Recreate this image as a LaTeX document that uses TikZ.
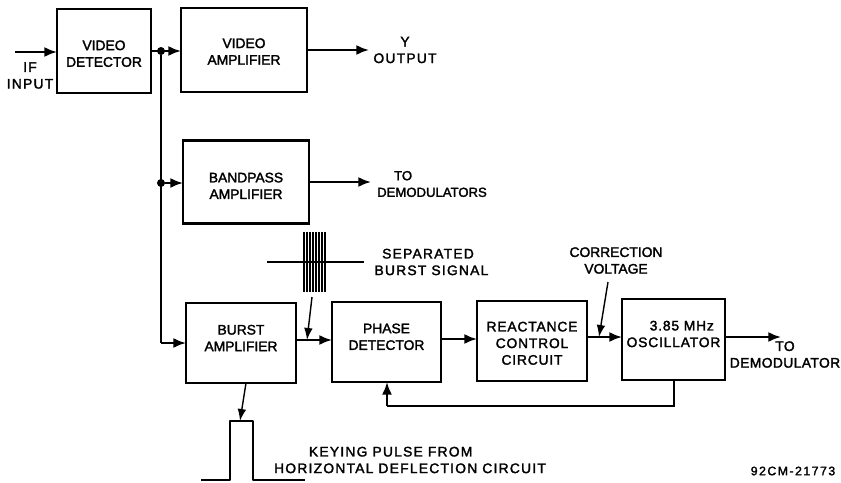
\documentclass[tikz,border=0pt]{standalone}
\usepackage{fontspec}
\setmainfont[FakeBold=2]{Liberation Sans}
\usetikzlibrary{arrows.meta}
\tikzset{
  % blocco del ricevitore
  block/.style={draw, line width=2pt, inner sep=0pt, outer sep=0pt, align=center,
    font=\lblfont},
  % etichette
  lbl/.style={inner sep=0pt, align=center, font=\lblfont},
  wide lbl/.style={lbl, font=\lblfont\addfontfeature{LetterSpace=9}},
  % collegamenti
  flow/.style={line width=1.8pt, -{Latex[length=3.8mm,width=3mm]}},
  wire/.style={line width=1.8pt},
  thin wire/.style={line width=1.2pt, -{Latex[length=3.6mm,width=2.6mm]}},
  junction/.style={circle, fill, inner sep=0pt, minimum size=2.4mm},
}
\newcommand{\lblfont}{\fontsize{11.8}{14.2}\selectfont}
\begin{document}
\begin{tikzpicture}[x=0.3mm, y=-0.3mm]
  \useasboundingbox (0,0) rectangle (841,482);
  % blocchi
  \node[block, minimum width=2.82cm, minimum height=2.52cm, text height=27pt] (det) at (104,51) {VIDEO\\DETECTOR};
  \node[block, minimum width=3.78cm, minimum height=2.52cm, text height=25pt] (vamp) at (244,50) {VIDEO\\AMPLIFIER};
  \node[block, minimum width=3.78cm, minimum height=2.49cm, text height=29pt] (band) at (246,182) {BANDPASS\\AMPLIFIER};
  \node[block, minimum width=3.3cm, minimum height=2.4cm, text depth=8.5pt] (burst) at (241,343) {BURST\\AMPLIFIER};
  \node[block, minimum width=3.27cm, minimum height=2.4cm, text depth=9pt] (phase) at (386.5,342) {PHASE\\DETECTOR};
  \node[block, minimum width=3.3cm, minimum height=2.4cm, text height=40.5pt, font=\lblfont\addfontfeature{LetterSpace=6}] (react) at (532,341) {REACTANCE\\CONTROL\\CIRCUIT};
  \node[block, minimum width=3.09cm, minimum height=2.43cm, text depth=9.5pt, font=\lblfont\addfontfeature{LetterSpace=6}] (osc) at (673.5,339.5) {\hspace*{1.2em}3.85 MHz\\OSCILLATOR};
  % giunzioni e punti liberi
  \node[junction] (jv) at (161,51) {};
  \node[junction] (jb) at (161,183) {};
  \coordinate (jr) at (161,343);
  \coordinate (ifin) at (15,52);
  \coordinate (yout) at (369,50);
  \coordinate (bout) at (371,182);
  \coordinate (oout) at (781,337);
  \coordinate (phin) at (387,382);
  \coordinate (fbl) at (387,406);
  \coordinate (fbr) at (674,406);
  \coordinate (oscs) at (674,380);
  \coordinate (bline) at (307,340);
  \coordinate (cline) at (599,337);
  \coordinate (bsrc) at (312,297);
  \coordinate (csrc) at (608,282);
  \coordinate (pulsetop) at (240,421);
  \coordinate (burstb) at (246,383);
  % collegamenti
  \draw[flow] (ifin) -- (det.west |- ifin);
  \draw[flow] (det.east |- jv) -- (vamp.west |- jv);
  \draw[wire] (jv) -- (jr);
  \draw[flow] (jb) -- (band.west |- jb);
  \draw[flow] (jr) -- (burst.west);
  \draw[flow] (vamp.east |- yout) -- (yout);
  \draw[flow] (band.east |- bout) -- (bout);
  \draw[flow] (burst.east |- bline) -- (phase.west |- bline);
  \draw[flow] (phase.east |- 0,339) -- (react.west |- 0,339);
  \draw[flow] (react.east |- cline) -- (osc.west |- cline);
  \draw[flow] (osc.east |- oout) -- (oout);
  \draw[wire] (oscs) -- (fbr) -- (fbl);
  \draw[flow] (fbl) -- (phin);
  \draw[thin wire] (bsrc) -- (bline);
  \draw[thin wire] (csrc) -- (cline);
  \draw[thin wire] (burstb) -- (pulsetop);
  % segnale di burst
  \draw[line width=1.2pt] (267,262) -- (364,262);
  \foreach \x in {304,307,310,313,316,319,322,325} {
    \draw[line width=1.5pt] (\x,232) -- (\x,292);
  }
  % impulso di chiave
  \draw[line width=2pt, line join=round] (201,480) -- (230,480) -- (230,421) -- (253,421) -- (253,480) -- (305,480);
  % testi
  \node[wide lbl] (ifl) at (30,75.5) {IF\\INPUT};
  \node[wide lbl] (yl) at (405,50) {Y\\OUTPUT};
  \node[lbl, font=\fontsize{11.2}{14.2}\selectfont] (tol) at (432,184) {TO\hspace*{4.4em}\\DEMODULATORS};
  \node[wide lbl] (sepl) at (428,262) {SEPARATED\\\hspace*{.5em}BURST SIGNAL};
  \node[lbl] (corrl) at (616,260.5) {CORRECTION\\VOLTAGE};
  \node[wide lbl] (keyl) at (410,460) {\hspace*{-2.8em}KEYING PULSE FROM\\HORIZONTAL DEFLECTION CIRCUIT};
  \node[lbl, font=\lblfont\addfontfeature{LetterSpace=3}] (tod) at (785,354.5) {TO\\DEMODULATOR};
  \node[lbl, font=\fontsize{10.5}{12}\selectfont\addfontfeature{LetterSpace=12}] (code) at (793,471) {92CM-21773};
\end{tikzpicture}
\end{document}
